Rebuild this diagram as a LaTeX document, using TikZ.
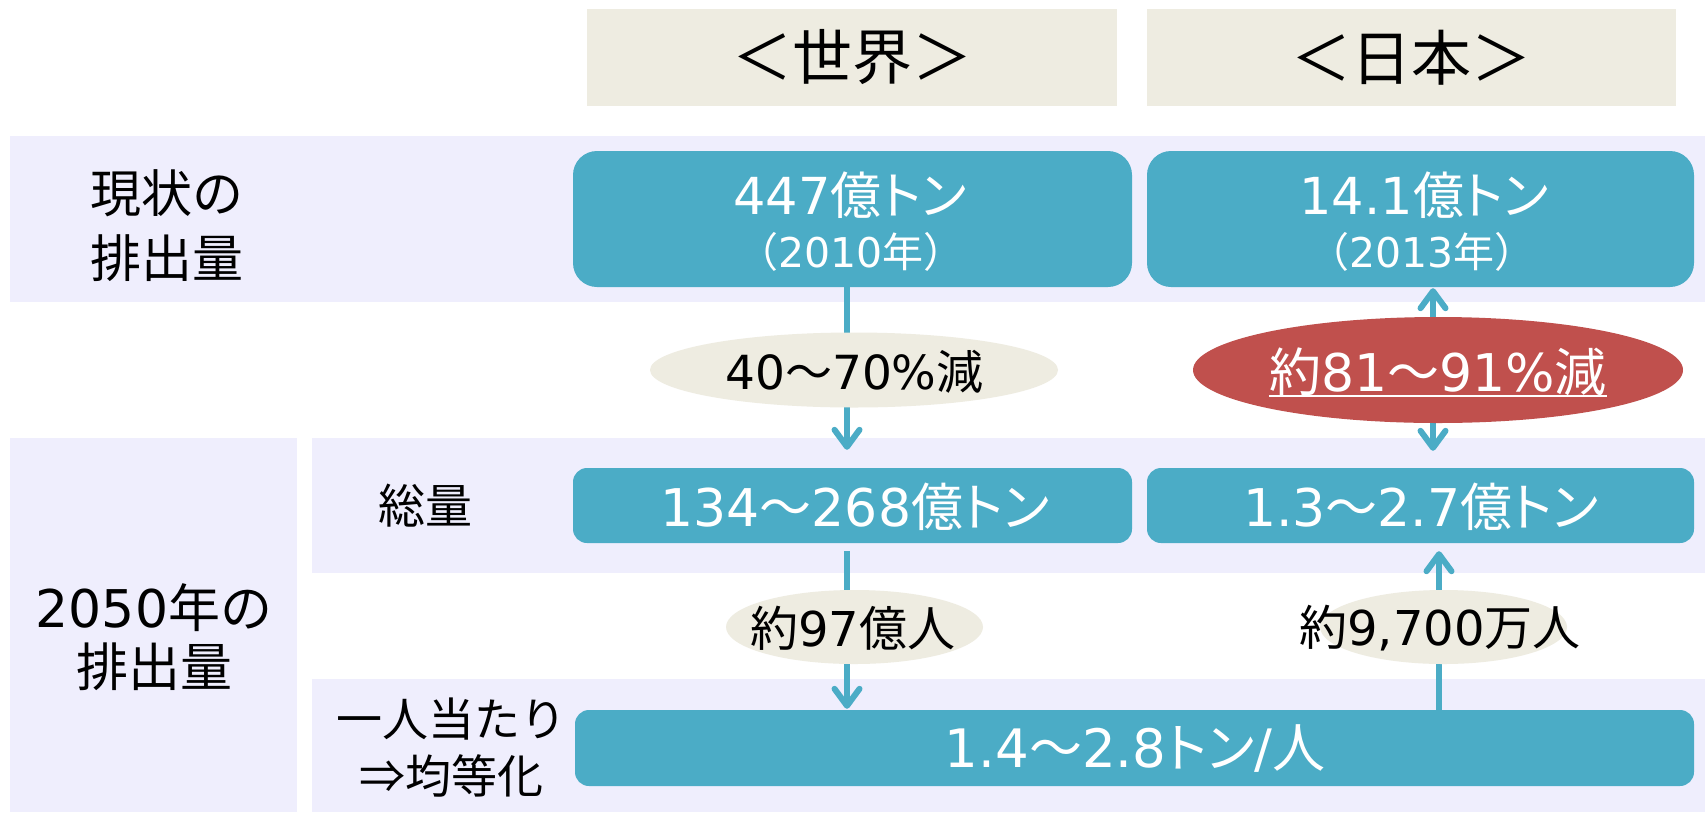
\documentclass[tikz,border=0pt]{standalone}
\usepackage{fontspec}
\setmainfont{DejaVu Sans}
\newfontfamily\jp{Noto Sans CJK JP}
\newfontfamily\jpp[RawFeature=+palt]{Noto Sans CJK JP}
\usetikzlibrary{arrows.meta,shapes.geometric}
\definecolor{tealc}{HTML}{4BACC6}
\definecolor{bandc}{RGB}{239,238,253}
\definecolor{beigec}{HTML}{EEECE1}
\definecolor{redc}{HTML}{C0504D}
\newcommand\fs[2]{\fontsize{#1pt}{#2pt}\selectfont}
\newcommand\J[1]{{\jp #1}}
\newcommand\JP[1]{{\jpp #1}}
\begin{document}
\begin{tikzpicture}[x=1pt,y=-1pt,
  headbox/.style={rectangle, fill=beigec, minimum height=97pt, inner sep=0pt, font=\fs{60}{70}},
  tealbox/.style={rectangle, fill=tealc, inner sep=0pt},
  txt/.style={inner sep=0pt, align=center},
  wtxt/.style={txt, text=white},
  ellbeige/.style={ellipse, fill=beigec, inner sep=0pt},
  ellred/.style={ellipse, fill=redc, inner sep=0pt},
  tipb/.tip={Straight Barb[round,length=17pt,width=25pt]},
  arr/.style={draw=tealc, line width=6pt, -tipb},
  darr/.style={draw=tealc, line width=6pt, tipb-tipb},
]
\useasboundingbox (0,0) rectangle (1705,812);
\fill[white] (0,0) rectangle (1705,812);
% bands
\fill[bandc] (10,136) rectangle (1705,302);
\fill[bandc] (10,438) rectangle (297,812);
\fill[bandc] (312,438) rectangle (1705,573);
\fill[bandc] (312,679) rectangle (1705,812);
% headings
\node[headbox, minimum width=530pt] (hw) at (852,57.5) {\J{＜世界＞}};
\node[headbox, minimum width=529pt] (hj) at (1411.5,57.5) {\J{＜日本＞}};
% left labels
\node[txt, font=\fs{51}{65}] (l1) at (167,226) {\J{現状の}\\\J{排出量}};
\node[txt, font=\fs{52}{59}] (l2) at (154,637) {2050\J{年の}\\\J{排出量}};
\node[txt, font=\fs{47}{55}] (s1) at (425,505.5) {\J{総量}};
\node[txt, font=\fs{46}{57}] (s2) at (451,748) {\J{一人当たり}\\\J{⇒均等化}};
% teal boxes
\node[tealbox, minimum width=559pt, minimum height=136pt, rounded corners=24pt] (wcur) at (852.5,219) {};
\node[tealbox, minimum width=547pt, minimum height=136pt, rounded corners=24pt] (jcur) at (1420.5,219) {};
\node[tealbox, minimum width=559pt, minimum height=75pt, rounded corners=14pt] (wtot) at (852.5,505.5) {};
\node[tealbox, minimum width=547pt, minimum height=75pt, rounded corners=14pt] (jtot) at (1420.5,505.5) {};
\node[tealbox, minimum width=1119pt, minimum height=76pt, rounded corners=14pt] (per) at (1134.5,748) {};
% box texts
\node[wtxt, font=\fs{51}{60}] (wcur1) at (850,195) {447\J{億}\JP{トン}};
\node[wtxt, font=\fs{41}{50}] (wcur2) at (851,252) {\J{（}2010\J{年）}};
\node[wtxt, font=\fs{51}{60}] (jcur1) at (1424,195) {14.1\J{億}\JP{トン}};
\node[wtxt, font=\fs{41}{50}] (jcur2) at (1422,252) {\J{（}2013\J{年）}};
\node[wtxt, font=\fs{52}{60}] (wtot1) at (855,507) {134\J{～}268\J{億}\JP{トン}};
\node[wtxt, font=\fs{52}{60}] (jtot1) at (1421,507) {1.3\J{～}2.7\J{億}\JP{トン}};
\node[wtxt, font=\fs{53}{60}] (per1) at (1135,749) {1.4\J{～}2.8\JP{トン}/\J{人}};
% connector guides
\coordinate (wline) at (847,0);
\coordinate (jline1) at (1433,0);
\coordinate (jline2) at (1439,0);
% arrows
\draw[arr, shorten >=18pt] (wcur.south -| wline) -- (wtot.north -| wline);
\draw[arr, shorten <=8pt, shorten >=1pt] (wtot.south -| wline) -- (per.north -| wline);
\draw[darr, shorten <=17pt, shorten >=1pt] (jtot.north -| jline1) -- (jcur.south -| jline1);
\draw[arr, shorten >=8pt] (per.north -| jline2) -- (jtot.south -| jline2);
% ellipses
\node[ellbeige, minimum width=408pt, minimum height=75pt] (e1) at (854,370) {};
\node[ellred, minimum width=490pt, minimum height=106pt] (e2) at (1438,370) {};
\node[ellbeige, minimum width=257pt, minimum height=74pt] (e3) at (854.5,627) {};
\node[ellbeige, minimum width=247pt, minimum height=74pt] (e4) at (1443.5,627) {};
\node[txt, font=\fs{47}{55}] (e1t) at (854.5,372) {40\J{～}70\%\J{減}};
\node[wtxt, font=\fs{52}{60}] (e2t) at (1438,371.5) {\J{約}81\J{～}91\%\J{減}};
\node[txt, font=\fs{48}{55}] (e3t) at (853,628.5) {\J{約}97\J{億人}};
\node[txt, font=\fs{48}{55}] (e4t) at (1440,628.5) {\J{約}9,700\J{万人}};
\draw[white, line width=2.5pt] ([yshift=-5pt]e2t.base west) -- ([yshift=-5pt]e2t.base east);
\end{tikzpicture}
\end{document}
